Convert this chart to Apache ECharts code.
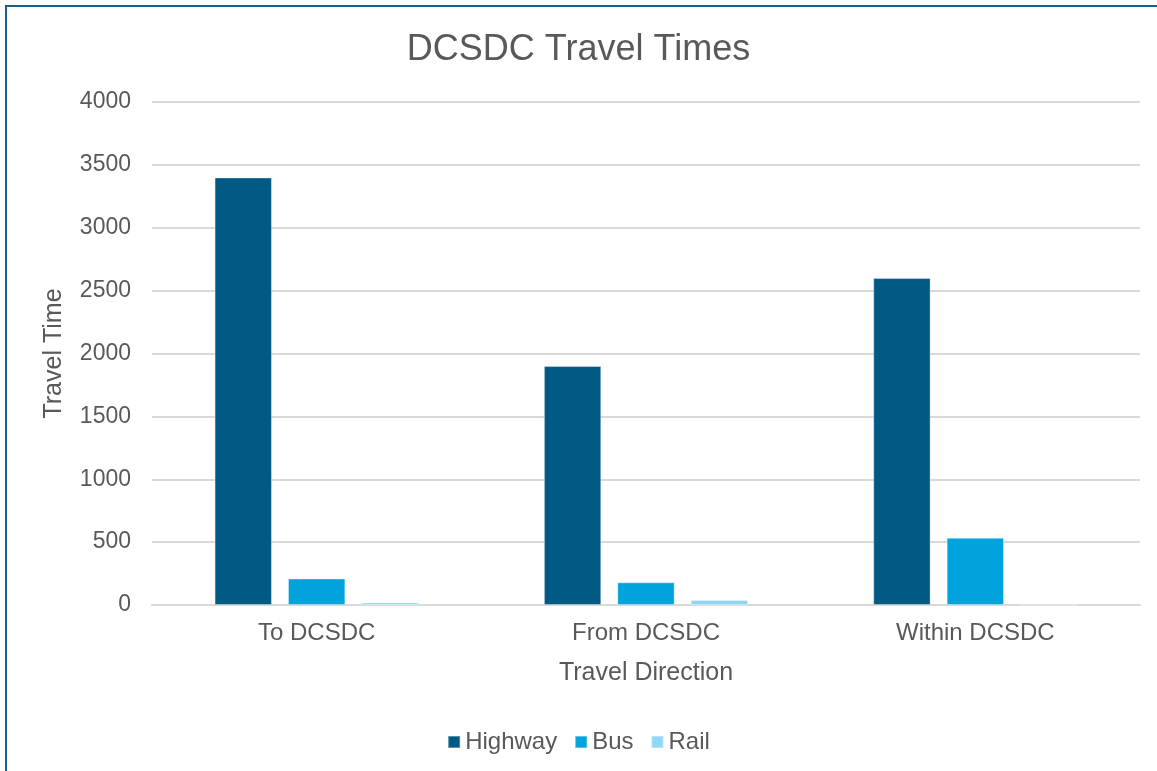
<!DOCTYPE html>
<html>
<head>
<meta charset="utf-8">
<script src="https://cdn.jsdelivr.net/npm/echarts@6/dist/echarts.min.js"></script>
<style>
html,body{margin:0;padding:0;background:#fff;}
#frame{position:absolute;left:5px;top:5px;width:1152px;height:766px;border-left:2px solid #1b5e8a;border-top:2px solid #1b5e8a;box-sizing:border-box;}
#chart{position:absolute;left:0;top:0;width:1157px;height:771px;}
</style>
</head>
<body>
<div id="frame"></div>
<div id="chart"></div>
<script>
const categories = ['To DCSDC', 'From DCSDC', 'Within DCSDC'];
const highway = [3400, 1900, 2600];
const bus = [210, 180, 535];
const rail = [20, 40, 0];
const seriesNames = ['Highway', 'Bus', 'Rail'];
const colors = ['#005a84', '#00a3dc', '#8fd7f7'];

const chart = echarts.init(document.getElementById('chart'));
const font = 'Liberation Sans, Arial, sans-serif';
const mk = (name, data, color) => ({
  name, type: 'bar', data,
  barGap: '28%', barCategoryGap: '38%',
  itemStyle: { color, borderColor: 'rgba(255,255,255,0.35)', borderWidth: 1 }
});
chart.setOption({
  animation: false,
  title: {
    text: 'DCSDC Travel Times', left: 'center', top: 27,
    textStyle: { fontFamily: font, fontSize: 36, fontWeight: 'normal', color: '#595959' }
  },
  legend: {
    bottom: 12, left: 'center', itemWidth: 12, itemHeight: 12, itemGap: 17,
    icon: 'rect',
    textStyle: { fontFamily: font, fontSize: 24, color: '#595959' },
    data: seriesNames
  },
  grid: { left: 152, right: 17, top: 102, bottom: 166 },
  xAxis: {
    type: 'category', data: categories,
    name: 'Travel Direction', nameLocation: 'middle', nameGap: 56,
    nameTextStyle: { fontFamily: font, fontSize: 25, color: '#595959' },
    axisLine: { lineStyle: { color: '#d9d9d9', width: 2 } },
    axisTick: { show: false },
    axisLabel: { fontFamily: font, fontSize: 24, color: '#595959', margin: 16 }
  },
  yAxis: {
    type: 'value', min: 0, max: 4000, interval: 500,
    name: 'Travel Time', nameLocation: 'middle', nameGap: 85,
    nameTextStyle: { fontFamily: font, fontSize: 25, color: '#595959' },
    axisLine: { show: false }, axisTick: { show: false },
    axisLabel: { fontFamily: font, fontSize: 23, color: '#595959', margin: 21, formatter: v => String(v) },
    splitLine: { lineStyle: { color: '#d9d9d9', width: 2 } }
  },
  series: [
    mk(seriesNames[0], highway, colors[0]),
    mk(seriesNames[1], bus, colors[1]),
    mk(seriesNames[2], rail, colors[2])
  ]
});
</script>
</body>
</html>
